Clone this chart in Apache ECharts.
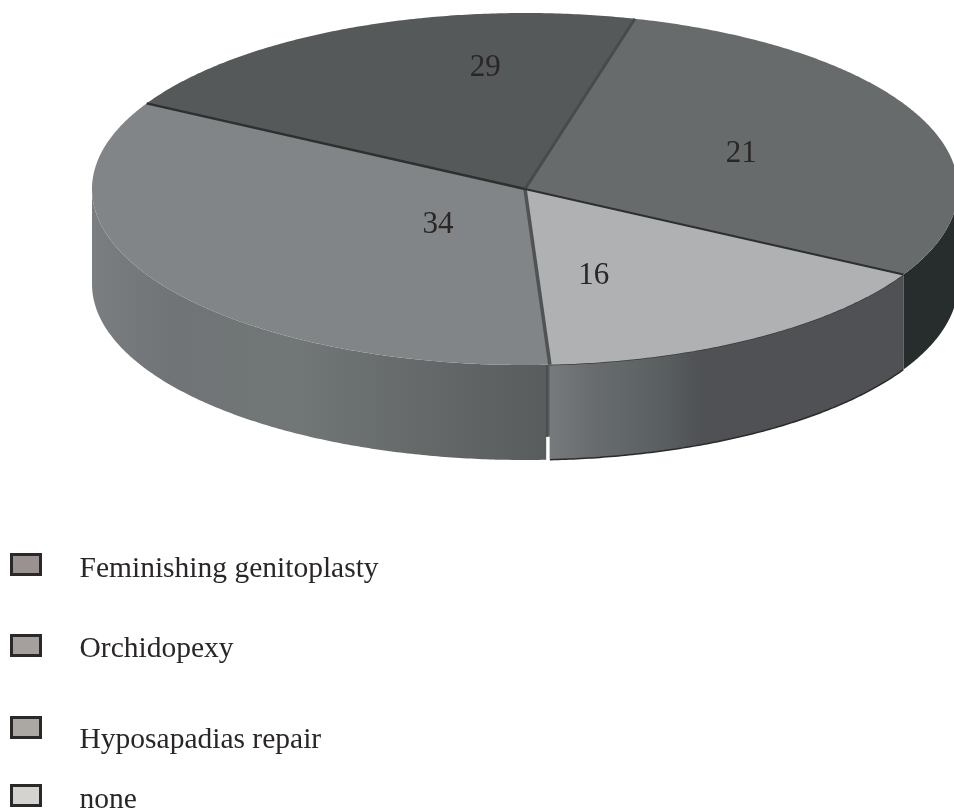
<!DOCTYPE html>
<html>
<head>
<meta charset="utf-8">
<style>
  html, body { margin: 0; padding: 0; background: #fff; }
  #chart { width: 954px; height: 810px; }
</style>
<script src="https://cdn.jsdelivr.net/npm/echarts@6/dist/echarts.min.js"></script>
</head>
<body>
<div id="chart"></div>
<script>
var categories = ['Feminishing genitoplasty', 'Orchidopexy', 'Hyposapadias repair', 'none'];
// numbers printed on the wedges
var printedValues = [34, 29, 21, 16];
// share each wedge really covers in the picture (29 and 21 are printed on each other's wedge)
var wedgeValues = [34, 21, 29, 16];
var swatchColors = ['#9a9290', '#a5a09d', '#aba7a3', '#d5d3d0'];

// pie layout
var CX = 525, CY = 189, RX = 433, RY = 176, DEPTH = 95;
var START_ANGLE = 176.7;  // clockwise from 12 o'clock
// where each number sits: [angle, fraction of the radius]
var labelPlaces = [[226.9, 0.275], [352.6, 0.711], [66.6, 0.544], [161.6, 0.503]];
var topColors = ['#828587', '#555959', '#676b6b', '#b0b1b3'];
var wallStyles = [
  [[0, '#7b7e80'], [0.17, '#707477'], [0.45, '#717676'], [0.8, '#616565'], [1, '#585c5c']],
  null,
  [[0, '#272d2d'], [1, '#272d2d']],
  [[0, '#777a7c'], [0.12, '#686c6e'], [0.3, '#5b6162'], [0.43, '#4f5154'], [1, '#4f5154']]
];
// edge at the start of each wedge
var edgeStyles = [
  { color: '#4f5354', width: 3.5 },
  { color: '#2e3030', width: 2.5 },
  { color: '#474b4c', width: 3 },
  { color: '#2e3030', width: 2 }
];
var legendTops = [553, 634, 716, 784];
var legendTextShift = [10, 7, 26, 9];

function rimPoint(angle, drop, r) {
  var a = angle * Math.PI / 180;
  var f = r === undefined ? 1 : r;
  return [CX + RX * f * Math.sin(a), CY - RY * f * Math.cos(a) + (drop || 0)];
}

function arcPoints(from, to, drop) {
  var pts = [];
  for (var t = from; t < to; t += 0.5) pts.push(rimPoint(t, drop));
  pts.push(rimPoint(to, drop));
  return pts;
}

function renderWedge(params, api) {
  var i = params.seriesIndex;
  var from = api.value(0), to = api.value(1);
  var children = [];

  // outer wall, only the front half of the ellipse shows (90-270 deg)
  var wallFrom = Math.max(from, from >= 360 ? 450 : 90);
  var wallTo = Math.min(to, from >= 360 ? 630 : 270);
  if (wallStyles[i] && wallTo > wallFrom) {
    var topArc = arcPoints(wallFrom, wallTo, 0);
    var bottomArc = arcPoints(wallFrom, wallTo, DEPTH);
    var x0 = Math.min(topArc[0][0], topArc[topArc.length - 1][0]);
    var x1 = Math.max(topArc[0][0], topArc[topArc.length - 1][0]);
    // walls are listed left to right
    if (i === 0) { x0 = CX - RX; }
    children.push({
      type: 'polygon',
      shape: { points: topArc.concat(bottomArc.reverse()) },
      style: {
        fill: new echarts.graphic.LinearGradient(x0, 0, x1, 0, wallStyles[i].map(function (s) {
          return { offset: s[0], color: s[1] };
        }), true)
      }
    });
    if (i === 3) {
      children.push({
        type: 'polyline',
        shape: { points: arcPoints(wallFrom, wallTo, DEPTH) },
        style: { fill: 'none', stroke: '#2b2b2b', lineWidth: 1.5 }
      });
      children.push({
        type: 'polyline',
        shape: { points: arcPoints(wallFrom, wallTo, 0) },
        style: { fill: 'none', stroke: '#3a3c3d', lineWidth: 1.5 }
      });
      // small split at the foot of the wall
      var foot = rimPoint(to, DEPTH);
      children.push({
        type: 'line',
        shape: { x1: foot[0] - 2, y1: foot[1] - 23, x2: foot[0] - 2, y2: foot[1] + 3 },
        style: { stroke: '#ffffff', lineWidth: 3.5 }
      });
      children.push({
        type: 'line',
        shape: { x1: foot[0] - 3, y1: CY + RY, x2: foot[0] - 3, y2: foot[1] - 23 },
        style: { stroke: '#4b4e4f', lineWidth: 2 }
      });
    }
  }

  // top face
  children.push({
    type: 'polygon',
    shape: { points: [[CX, CY]].concat(arcPoints(from, to, 0)) },
    style: { fill: topColors[i] }
  });
  return { type: 'group', children: children };
}

// edges and numbers go on last so the next wedge does not cover them
function renderEdges(params, api) {
  var i = api.value(2);
  var end = rimPoint(api.value(0));
  var children = [{
    type: 'line',
    shape: { x1: CX, y1: CY, x2: end[0], y2: end[1] },
    style: { stroke: edgeStyles[i].color, lineWidth: edgeStyles[i].width }
  }];
  var place = rimPoint(labelPlaces[i][0], 0, labelPlaces[i][1]);
  children.push({
    type: 'text',
    style: {
      text: String(printedValues[i]),
      x: place[0],
      y: place[1] + 2.5,
      align: 'center',
      verticalAlign: 'middle',
      fill: '#2a2626',
      font: '31px "Liberation Serif"'
    }
  });
  return { type: 'group', children: children };
}

var total = wedgeValues.reduce(function (a, b) { return a + b; }, 0);
var series = [];
var edgeData = [];
var angle = START_ANGLE;
categories.forEach(function (name, i) {
  var span = wedgeValues[i] / total * 360;
  series.push({
    name: name,
    type: 'custom',
    coordinateSystem: 'none',
    renderItem: renderWedge,
    silent: true,
    animation: false,
    z: 2,
    data: [[angle, angle + span]]
  });
  edgeData.push([angle, 0, i]);
  angle += span;
});
series.push({
  name: 'edges',
  type: 'custom',
  coordinateSystem: 'none',
  renderItem: renderEdges,
  silent: true,
  animation: false,
  z: 3,
  data: edgeData
});

var chart = echarts.init(document.getElementById('chart'), null, { renderer: 'canvas' });
chart.setOption({
  backgroundColor: '#ffffff',
  animation: false,
  tooltip: { show: false },
  legend: categories.map(function (name, i) {
    return {
      data: [name],
      left: 10,
      top: legendTops[i],
      orient: 'vertical',
      padding: 0,
      selectedMode: false,
      icon: 'rect',
      itemWidth: 29,
      itemHeight: 20,
      itemStyle: { color: swatchColors[i], borderColor: '#2b2828', borderWidth: 3 },
      formatter: '{t|{name}}',
      textStyle: {
        rich: {
          t: {
            fontFamily: 'Liberation Serif',
            fontSize: 29.5,
            color: '#2a2626',
            padding: [legendTextShift[i], 0, 0, 34]
          }
        }
      }
    };
  }),
  series: series
});
</script>
</body>
</html>
